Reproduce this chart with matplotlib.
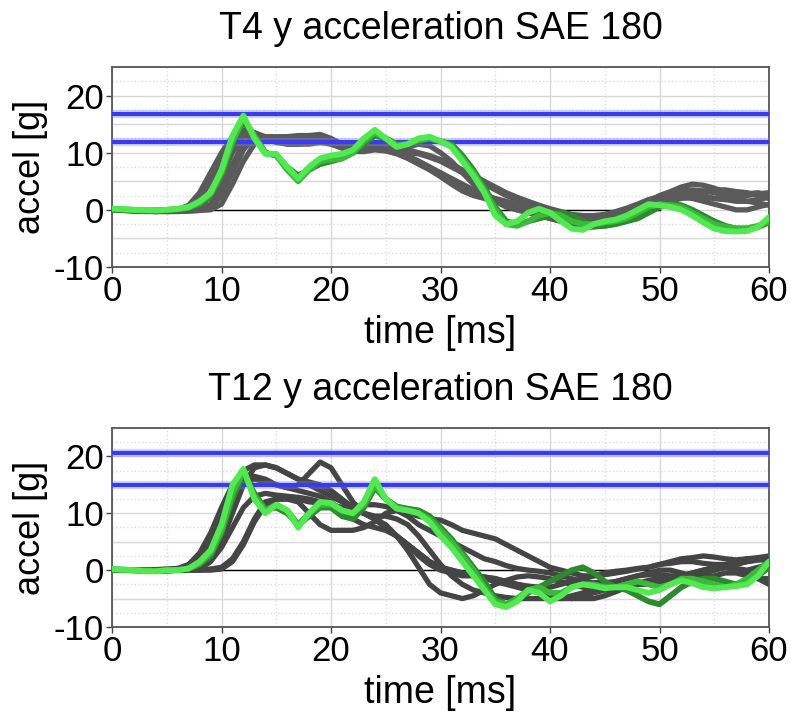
import numpy as np
import matplotlib
matplotlib.use("Agg")
import matplotlib.pyplot as plt
from matplotlib.ticker import MultipleLocator

plt.rcParams['font.family'] = ['Liberation Sans', 'DejaVu Sans']
plt.rcParams['axes.unicode_minus'] = False

# time axis, 1 ms steps
time_ms = list(range(61))

# ---- T4 panel ----
t4_title = "T4 y acceleration SAE 180"
t4_limits = [16.8, 11.9]

t4_green_light = [
    0.2, 0.1, 0.0, 0.0, -0.1, 0.0, 0.2, 0.5, 1.5, 3.0,
    7.0, 13.0, 16.5, 12.5, 9.8, 9.8, 7.5, 5.5, 7.5, 9.0,
    9.5, 9.8, 10.5, 12.5, 14.0, 12.5, 11.0, 11.5, 12.5, 12.8,
    12.0, 11.0, 8.5, 6.0, 3.0, -1.0, -2.5, -2.0, -0.5, 0.2,
    -0.5, -2.0, -3.3, -3.5, -2.5, -2.0, -1.7, -1.0, 0.0, 1.0,
    0.8, 0.5, 0.0, -1.0, -2.2, -3.3, -3.7, -3.8, -3.7, -3.0,
    -1.3]
t4_green_mid = [
    0.1, 0.1, 0.0, -0.1, -0.1, 0.0, 0.1, 0.4, 1.2, 2.8,
    6.5, 12.0, 16.0, 13.0, 10.0, 9.5, 7.0, 5.0, 7.0, 8.5,
    8.8, 9.0, 10.0, 12.0, 13.5, 12.5, 11.3, 11.5, 12.2, 12.5,
    12.0, 11.2, 9.0, 6.5, 3.5, 0.0, -2.5, -2.8, -2.0, -1.0,
    -0.5, -1.0, -2.0, -2.5, -2.5, -2.2, -2.0, -1.5, -0.5, 0.5,
    1.0, 0.8, 0.5, -0.5, -1.5, -2.5, -3.0, -3.2, -3.2, -2.8,
    -2.0]
t4_green_dark = [
    0.1, 0.0, 0.0, -0.1, -0.1, 0.0, 0.1, 0.3, 1.0, 2.5,
    6.0, 11.5, 15.5, 13.0, 10.0, 9.5, 7.5, 6.0, 7.0, 8.0,
    8.5, 9.0, 10.0, 11.5, 13.0, 12.5, 11.5, 11.5, 12.0, 12.5,
    12.0, 11.5, 9.5, 7.0, 4.0, 0.5, -2.0, -2.5, -2.0, -1.5,
    -1.0, -0.5, -1.0, -2.0, -2.8, -2.8, -2.5, -2.0, -1.5, -0.5,
    0.5, 1.0, 0.8, 0.0, -1.0, -2.0, -2.8, -3.3, -3.5, -3.0,
    -2.2]

t4_gray1 = [
    0.0, 0.0, -0.2, -0.2, -0.3, -0.2, 0.0, 0.8, 3.0, 6.5,
    10.0, 12.8, 14.0, 13.5, 12.5, 12.5, 12.8, 12.8, 13.0, 12.8,
    12.0, 11.0, 10.5, 10.8, 11.0, 10.8, 10.2, 9.5, 8.5, 7.5,
    6.5, 5.5, 4.5, 3.5, 2.5, 1.5, 0.5, 0.0, -0.5, -1.0,
    -1.5, -2.0, -2.5, -2.8, -2.5, -2.0, -1.5, -0.5, 0.5, 1.5,
    2.5, 3.2, 4.0, 4.5, 4.3, 3.8, 3.0, 2.5, 2.8, 3.0,
    2.5]
t4_gray2 = [
    0.1, 0.0, -0.1, -0.2, -0.2, -0.1, 0.0, 0.3, 1.8, 5.0,
    8.5, 12.0, 13.5, 13.5, 12.8, 12.8, 12.8, 13.0, 13.0, 13.2,
    12.5, 11.5, 11.0, 11.2, 11.5, 11.2, 10.8, 10.5, 10.0, 9.5,
    8.8, 8.0, 7.0, 6.0, 5.0, 4.0, 3.0, 2.2, 1.5, 0.8,
    0.2, -0.3, -0.8, -1.0, -1.0, -0.8, -0.3, 0.3, 1.0, 1.8,
    2.3, 2.8, 3.3, 3.5, 3.3, 3.0, 2.5, 2.0, 1.5, 1.2,
    0.8]
t4_gray3 = [
    0.0, -0.1, -0.2, -0.3, -0.3, -0.2, -0.1, 0.0, 0.3, 2.5,
    6.0, 10.0, 12.8, 13.2, 12.5, 11.8, 11.5, 11.5, 11.8, 12.0,
    11.8, 11.0, 10.5, 10.5, 10.8, 10.5, 10.0, 9.3, 8.5, 7.5,
    6.2, 5.0, 4.0, 3.2, 2.5, 2.0, 1.5, 1.0, 0.5, 0.0,
    -0.5, -1.0, -1.5, -2.0, -2.0, -1.5, -1.0, -0.5, 0.5, 1.2,
    2.0, 2.5, 2.8, 2.8, 2.5, 2.0, 1.8, 2.0, 2.5, 2.8,
    3.0]
t4_gray4 = [
    -0.1, -0.1, -0.2, -0.2, -0.3, -0.3, -0.2, -0.1, 0.0, 1.0,
    4.0, 8.0, 11.5, 13.0, 12.5, 12.0, 12.0, 12.2, 12.5, 12.5,
    12.0, 11.5, 11.0, 11.0, 11.2, 11.0, 10.5, 10.0, 9.8, 9.2,
    8.5, 7.5, 6.5, 5.5, 4.5, 3.5, 2.5, 1.8, 1.0, 0.5,
    0.0, -0.5, -1.0, -1.5, -1.8, -1.5, -1.0, -0.5, 0.0, 0.8,
    1.5, 2.0, 2.2, 2.0, 1.5, 1.0, 0.5, 0.0, 0.0, 0.5,
    1.0]
t4_gray5 = [
    0.0, 0.0, -0.1, -0.2, -0.2, -0.3, -0.3, -0.2, -0.1, 0.3,
    2.5, 6.5, 10.5, 12.8, 12.8, 12.2, 12.0, 12.0, 12.0, 12.2,
    11.5, 10.8, 10.2, 10.2, 10.5, 10.3, 9.8, 9.0, 8.0, 7.0,
    5.8, 4.5, 3.3, 2.5, 2.0, 1.5, 1.0, 0.5, 0.0, -0.5,
    -1.2, -1.8, -2.2, -2.5, -2.5, -2.2, -1.8, -1.0, -0.3, 0.5,
    1.2, 1.8, 2.5, 3.0, 3.3, 3.5, 3.5, 3.2, 3.0, 2.5,
    2.0]
t4_gray6 = [
    0.1, 0.0, -0.1, -0.1, -0.2, -0.2, -0.2, -0.2, -0.1, 0.0,
    1.0, 4.5, 8.5, 11.5, 12.5, 12.0, 11.5, 11.5, 11.5, 11.8,
    11.5, 11.0, 10.8, 11.0, 11.5, 11.2, 10.8, 11.0, 11.5, 11.2,
    10.0, 8.5, 6.5, 4.5, 3.0, 1.8, 0.8, 0.0, -0.5, -1.0,
    -1.5, -2.0, -2.5, -3.0, -3.0, -2.8, -2.3, -1.5, -0.8, 0.0,
    0.8, 1.5, 2.0, 2.2, 2.2, 2.0, 1.8, 1.5, 1.5, 1.8,
    2.2]

# ---- T12 panel ----
t12_title = "T12 y acceleration SAE 180"
t12_limits = [20.6, 14.9]

t12_green_light = [
    0.2, 0.1, 0.0, -0.2, -0.2, 0.0, 0.0, 0.3, 1.5, 3.5,
    8.0, 15.0, 17.8, 12.5, 10.0, 11.5, 10.5, 7.5, 10.0, 12.0,
    11.8, 10.5, 10.0, 12.0, 16.0, 12.5, 10.8, 10.5, 10.0, 8.5,
    6.0, 4.0, 1.5, -1.0, -3.5, -6.0, -6.5, -5.5, -3.5, -4.0,
    -5.5, -4.5, -3.0, -2.5, -2.8, -3.2, -3.0, -3.0, -3.5, -4.0,
    -3.5, -2.5, -1.8, -2.3, -3.0, -3.2, -3.0, -2.8, -2.5, -1.0,
    1.5]
t12_green_mid = [
    0.1, 0.1, 0.0, -0.1, -0.2, -0.1, 0.0, 0.3, 1.2, 3.0,
    7.0, 13.5, 17.5, 13.0, 10.5, 11.5, 10.5, 8.0, 10.0, 11.5,
    11.5, 10.5, 10.0, 11.5, 15.0, 12.5, 11.0, 10.5, 10.0, 9.0,
    7.0, 5.0, 2.5, 0.0, -3.0, -5.5, -6.0, -5.0, -3.5, -3.0,
    -4.0, -4.0, -3.0, -2.5, -2.5, -3.0, -3.0, -2.5, -2.0, -2.5,
    -3.0, -2.5, -1.5, -1.5, -2.0, -2.5, -3.0, -2.5, -1.5, 0.0,
    1.5]
t12_green_dark = [
    0.1, 0.0, 0.0, -0.1, -0.1, 0.0, 0.0, 0.2, 1.0, 2.5,
    6.5, 12.5, 17.0, 13.5, 10.8, 11.0, 10.0, 8.0, 9.5, 11.0,
    11.0, 9.5, 9.0, 11.0, 14.5, 12.5, 11.2, 10.8, 10.5, 9.5,
    7.5, 5.5, 3.0, 0.5, -2.0, -5.0, -6.0, -5.0, -4.0, -3.0,
    -2.0, -1.0, 0.0, 0.5, -0.5, -2.0, -3.0, -3.5, -4.5, -5.5,
    -6.0, -4.5, -3.0, -2.0, -1.5, -1.5, -2.0, -2.5, -2.0, -1.0,
    0.5]

t12_gray1 = [
    0.2, 0.1, 0.0, 0.0, 0.1, 0.2, 0.3, 1.0, 3.0, 6.5,
    11.0, 15.0, 17.5, 18.5, 18.5, 18.0, 17.0, 16.0, 15.5, 15.0,
    14.0, 12.5, 11.0, 10.0, 9.0, 7.5, 6.0, 4.5, 2.5, 1.0,
    0.0, -0.5, -1.0, -1.0, -1.2, -1.5, -2.0, -2.5, -2.8, -3.0,
    -3.0, -2.5, -2.0, -1.5, -1.0, -0.5, -0.2, 0.0, 0.3, 0.5,
    1.0, 1.2, 1.5, 1.5, 1.2, 1.0, 1.0, 1.2, 1.5, 1.8,
    2.0]
t12_gray2 = [
    0.0, 0.0, -0.1, -0.1, 0.0, 0.0, 0.1, 0.3, 2.0, 5.0,
    9.0, 13.0, 15.5, 16.5, 16.0, 15.0, 14.5, 15.0, 17.0, 19.0,
    18.0, 15.0, 12.0, 10.0, 9.5, 9.5, 9.0, 8.0, 6.0, 3.5,
    1.0, -1.0, -2.5, -3.5, -4.0, -4.5, -4.8, -5.0, -5.0, -5.0,
    -5.0, -5.0, -4.5, -4.0, -3.5, -2.8, -2.0, -1.5, -1.0, -0.8,
    -0.8, -1.0, -1.0, -0.5, 0.0, 0.5, 1.0, 1.5, 2.0, 2.0,
    1.5]
t12_gray3 = [
    0.0, 0.0, 0.0, -0.1, -0.1, 0.0, 0.0, 0.1, 0.5, 2.0,
    5.0, 10.0, 15.0, 18.0, 18.5, 18.0, 17.0, 16.0, 15.0, 14.0,
    13.0, 12.0, 11.0, 10.0, 9.0, 8.0, 6.0, 3.5, 0.5, -2.5,
    -4.0, -4.5, -5.0, -4.5, -3.5, -2.5, -1.8, -1.2, -1.0, -1.2,
    -1.5, -2.0, -2.5, -3.0, -3.5, -3.5, -3.2, -2.8, -2.3, -1.8,
    -1.5, -1.2, -1.0, -0.8, -0.5, 0.0, 0.5, 0.0, -0.5, -1.5,
    -2.5]
t12_gray4 = [
    0.1, 0.0, 0.0, -0.1, -0.1, -0.1, 0.0, 0.0, 0.2, 1.5,
    4.0, 7.5, 11.0, 13.0, 13.5, 13.2, 13.0, 12.8, 12.5, 12.0,
    11.5, 11.0, 11.0, 11.5, 11.5, 11.2, 10.5, 10.0, 9.5, 9.0,
    8.8, 8.0, 7.0, 6.5, 6.0, 5.5, 4.5, 3.5, 2.5, 1.5,
    0.5, 0.0, -0.5, -1.0, -1.0, -0.8, -0.5, -0.2, 0.2, 0.5,
    1.0, 1.5, 2.0, 2.2, 2.5, 2.3, 2.0, 1.8, 2.0, 2.2,
    2.5]
t12_gray5 = [
    0.0, 0.0, 0.0, 0.0, -0.1, -0.1, 0.0, 0.0, 0.0, 0.2,
    0.5, 2.0, 5.0, 9.0, 12.0, 12.5, 12.5, 12.0, 10.0, 8.0,
    7.0, 7.0, 7.0, 7.5, 8.5, 10.0, 10.5, 9.5, 8.0, 7.0,
    6.0, 5.0, 4.0, 3.0, 2.0, 1.5, 0.8, 0.3, 0.0, -0.2,
    -0.5, -1.0, -1.5, -2.0, -2.2, -2.2, -2.0, -1.5, -1.0, -0.5,
    0.0, 0.0, -0.5, -1.0, -1.2, -1.0, -0.5, -0.5, -1.0, -1.5,
    -1.5]
t12_gray6 = [
    0.0, 0.0, 0.0, -0.1, -0.1, -0.1, 0.0, 0.0, 0.0, 0.0,
    0.2, 1.5, 4.5, 8.5, 11.5, 12.5, 12.5, 12.5, 12.0, 11.8,
    11.5, 11.0, 10.5, 10.0, 9.0, 7.5, 6.0, 4.5, 3.0, 1.5,
    0.5, 0.0, -0.5, -1.0, -1.2, -1.5, -2.0, -2.5, -3.0, -3.5,
    -4.0, -4.5, -5.0, -5.0, -5.0, -4.5, -3.8, -3.0, -2.5, -2.2,
    -2.0, -1.5, -1.0, -0.5, 0.0, 0.3, 0.5, 0.3, 0.0, 0.5,
    1.0]
t12_gray7 = [
    0.1, 0.0, 0.0, 0.0, 0.0, 0.1, 0.2, 0.8, 2.5, 5.5,
    9.0, 12.5, 15.0, 16.0, 15.5, 15.0, 14.5, 14.0, 13.5, 13.0,
    12.0, 10.5, 9.0, 8.0, 7.5, 7.0, 6.0, 4.5, 3.0, 1.5,
    0.5, 0.0, -0.5, -1.0, -1.5, -2.0, -2.5, -3.0, -3.5, -4.0,
    -4.5, -5.0, -5.0, -4.5, -4.0, -3.5, -3.0, -2.5, -2.5, -2.5,
    -2.5, -2.0, -1.5, -1.0, -0.5, 0.0, 0.5, 1.0, 1.5, 1.8,
    2.0]

# zero reference segment
zero_x = [9, 50]
zero_y = [0, 0]

x_ticks = [0, 10, 20, 30, 40, 50, 60]
y_ticks = [-10, 0, 10, 20]


def draw_panel(ax, title, grays, greens, limits, gray_color):
    ax.set_xlim(0, 60)
    ax.set_ylim(-10, 25)
    # grid
    ax.xaxis.set_minor_locator(MultipleLocator(5))
    ax.yaxis.set_minor_locator(MultipleLocator(2.5))
    ax.grid(which='major', color='#d8d8d8', lw=1.0)
    ax.grid(which='minor', color='#dddddd', lw=1.0, linestyle=':')
    for v in [-5, 5, 15]:
        ax.axhline(v, color='#d8d8d8', lw=1.0, zorder=1)
    ax.plot(zero_x, zero_y, color='black', lw=1.0, zorder=1.8)

    for g in grays:
        ax.plot(time_ms, g, color=gray_color, lw=3.8, zorder=2,
                solid_capstyle='round', solid_joinstyle='round')
    for v in limits:
        ax.axhline(v, color='#8080ff', lw=6, alpha=0.35, zorder=3)
        ax.axhline(v, color='#3a3af2', lw=3, zorder=3)
    for g, c in greens:
        ax.plot(time_ms, g, color=c, lw=4.2, zorder=4,
                solid_capstyle='round', solid_joinstyle='round')

    ax.set_xticks(x_ticks)
    ax.set_yticks(y_ticks)
    ax.tick_params(which='major', direction='out', length=4, width=1.0,
                   color='#444444', labelsize=25, pad=2)
    ax.tick_params(which='minor', length=0)
    for s in ax.spines.values():
        s.set_color('#555555')
        s.set_linewidth(1.3)
    ax.set_title(title, fontsize=27, pad=20)
    ax.set_xlabel('time [ms]', fontsize=27, labelpad=5)
    ax.set_ylabel('accel [g]', fontsize=26, labelpad=4)


def main():
    fig = plt.figure(figsize=(7.91, 7.17), dpi=100)
    ax1 = fig.add_axes([0.1416, 0.6276, 0.8306, 0.279])
    ax2 = fig.add_axes([0.1416, 0.1255, 0.8306, 0.2776])

    draw_panel(ax1, t4_title,
               [t4_gray1, t4_gray2, t4_gray3, t4_gray4, t4_gray5, t4_gray6],
               [(t4_green_dark, '#2f8a2f'), (t4_green_mid, '#3cb83c'),
                (t4_green_light, '#52e852')],
               t4_limits, '#5a5a5a')
    draw_panel(ax2, t12_title,
               [t12_gray1, t12_gray2, t12_gray3, t12_gray4, t12_gray5,
                t12_gray6, t12_gray7],
               [(t12_green_dark, '#2f8a2f'), (t12_green_mid, '#3cb83c'),
                (t12_green_light, '#52e852')],
               t12_limits, '#454545')

    fig.savefig('out.png', dpi=100)


if __name__ == '__main__':
    main()
